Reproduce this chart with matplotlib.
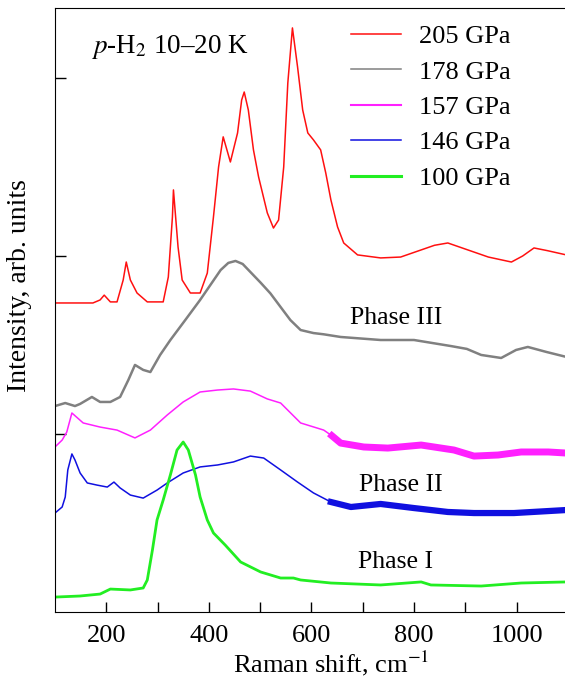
import numpy as np
import matplotlib
matplotlib.use('Agg')
import matplotlib.pyplot as plt
from matplotlib.lines import Line2D

plt.rcParams['font.family'] = ['Liberation Serif', 'DejaVu Serif']
plt.rcParams['mathtext.fontset'] = 'stix'

# 205 GPa (red)
x205 = [100, 174, 188, 196, 208, 221, 233, 239, 247, 260, 280, 311, 321, 329, 331, 340, 348, 364,
        383, 397, 409, 419, 428, 442, 456, 464, 469, 477, 487, 497, 514, 526, 536, 546, 554, 563,
        573, 583, 593, 604, 618, 628, 638, 651, 663, 690, 735, 774, 814, 840, 866, 905, 945, 990,
        1012, 1034, 1060, 1097]
y205 = [1.736, 1.736, 1.753, 1.78, 1.742, 1.742, 1.865, 1.966, 1.865, 1.792, 1.742, 1.742, 1.882,
        2.219, 2.371, 2.05, 1.865, 1.792, 1.792, 1.904, 2.219, 2.5, 2.669, 2.528, 2.691, 2.876,
        2.921, 2.82, 2.596, 2.444, 2.242, 2.157, 2.202, 2.5, 2.972, 3.281, 3.062, 2.82, 2.691,
        2.652, 2.596, 2.466, 2.315, 2.163, 2.073, 2.006, 1.989, 1.994, 2.034, 2.06, 2.073, 2.034,
        1.994, 1.966, 2.0, 2.045, 2.03, 2.006]

# 178 GPa (grey)
x178 = [100, 120, 139, 149, 172, 188, 208, 227, 243, 256, 272, 286, 305, 325, 354, 383, 403, 423,
        438, 452, 466, 481, 501, 520, 540, 559, 579, 604, 624, 657, 735, 800, 872, 903, 931, 970,
        999, 1022, 1058, 1097]
y178 = [1.157, 1.174, 1.157, 1.169, 1.208, 1.18, 1.18, 1.208, 1.303, 1.388, 1.36, 1.348, 1.444,
        1.528, 1.64, 1.753, 1.837, 1.921, 1.961, 1.972, 1.955, 1.91, 1.85, 1.79, 1.713, 1.64,
        1.584, 1.567, 1.56, 1.545, 1.528, 1.528, 1.494, 1.478, 1.444, 1.427, 1.472, 1.489,
        1.461, 1.433]

# 157 GPa (magenta)
x157 = [100, 114, 123, 133, 155, 188, 221, 256, 286, 319, 350, 383, 417, 448, 481, 514, 540, 579,
        624, 640, 657, 702, 749, 814, 878, 917, 964, 1009, 1062, 1097]
y157 = [0.927, 0.966, 1.011, 1.118, 1.062, 1.039, 1.022, 0.978, 1.022, 1.107, 1.18, 1.236, 1.247,
        1.253, 1.241, 1.197, 1.174, 1.062, 1.022, 0.99, 0.949, 0.927, 0.921, 0.938, 0.91, 0.876,
        0.882, 0.899, 0.899, 0.893]

# 146 GPa (blue)
x146 = [100, 114, 120, 125, 133, 139, 149, 163, 182, 202, 215, 227, 247, 272, 299, 319, 350, 383,
        417, 448, 481, 507, 540, 573, 604, 638, 677, 735, 800, 866, 917, 995, 1097]
y146 = [0.556, 0.59, 0.646, 0.798, 0.888, 0.854, 0.781, 0.725, 0.713, 0.702, 0.73, 0.697, 0.657,
        0.64, 0.685, 0.725, 0.781, 0.815, 0.826, 0.843, 0.876, 0.865, 0.798, 0.73, 0.669,
        0.618, 0.59, 0.607, 0.584, 0.562, 0.556, 0.556, 0.573]

# 100 GPa (green)
x100 = [100, 149, 188, 208, 247, 272, 280, 290, 299, 311, 325, 338, 350, 360, 374, 383, 397, 409,
        432, 462, 501, 540, 565, 579, 638, 735, 814, 833, 931, 1009, 1097]
y100 = [0.084, 0.09, 0.101, 0.129, 0.124, 0.135, 0.18, 0.348, 0.517, 0.629, 0.77, 0.91, 0.955,
        0.91, 0.77, 0.646, 0.517, 0.444, 0.376, 0.281, 0.225, 0.191, 0.191, 0.18, 0.163, 0.152,
        0.169, 0.152, 0.146, 0.163, 0.169]

labels = ['205 GPa', '178 GPa', '157 GPa', '146 GPa', '100 GPa']
colors = ['#ff1010', '#808080', '#ff20ff', '#1010e0', '#22ee22']

fig = plt.figure(figsize=(5.65, 6.82), dpi=100)
ax = fig.add_axes([0.0973, 0.1026, 0.905, 0.8857])

ax.plot(x205, y205, color=colors[0], lw=1.1)
ax.plot(x178, y178, color=colors[1], lw=1.8)

# noisy tails drawn as wider bands
x157 = np.array(x157); y157 = np.array(y157)
ax.plot(x157[x157 <= 657], y157[x157 <= 657], color=colors[2], lw=1.1)
ax.plot(x157[x157 >= 640], y157[x157 >= 640], color=colors[2], lw=5)
x146 = np.array(x146); y146 = np.array(y146)
ax.plot(x146[x146 <= 677], y146[x146 <= 677], color=colors[3], lw=1.1)
ax.plot(x146[x146 >= 638], y146[x146 >= 638], color=colors[3], lw=4.5)

ax.plot(x100, y100, color=colors[4], lw=2.0)

ax.set_xlim(100, 1097)
ax.set_ylim(0, 3.393)
ax.set_xticks([200, 400, 600, 800, 1000])
ax.set_xticks(np.arange(300, 1100, 200), minor=True)
ax.set_yticks([1, 2, 3])
ax.set_yticklabels([])
ax.tick_params(axis='x', which='both', direction='in', length=7, width=1, labelsize=19, pad=9)
ax.tick_params(axis='y', direction='in', length=8, width=1)
ax.spines['right'].set_visible(False)

ax.set_xlabel('Raman shift, cm$^{-1}$', fontsize=19)
ax.xaxis.set_label_coords(0.54, -0.06)
ax.set_ylabel('Intensity, arb. units', fontsize=20)
ax.yaxis.set_label_coords(-0.045, 0.541)

ax.text(0.07, 0.935, '$p$-H$_2$ 10\u201320 K', transform=ax.transAxes, fontsize=19.5, va='center')
ax.text(765, 1.652, 'Phase III', fontsize=18.5, ha='center', va='center')
ax.text(774, 0.713, 'Phase II', fontsize=18.5, ha='center', va='center')
ax.text(765, 0.28, 'Phase I', fontsize=18.5, ha='center', va='center')

handles = [Line2D([], [], color=c, lw=w) for c, w in zip(colors, [1.1, 1.1, 1.5, 1.1, 2.2])]
ax.legend(handles, labels, loc='upper left', bbox_to_anchor=(0.578, 0.972), frameon=False,
          fontsize=19, handlelength=1.9, handletextpad=0.68, labelspacing=0.45,
          borderpad=0, borderaxespad=0)

fig.savefig('out.png', dpi=100)
